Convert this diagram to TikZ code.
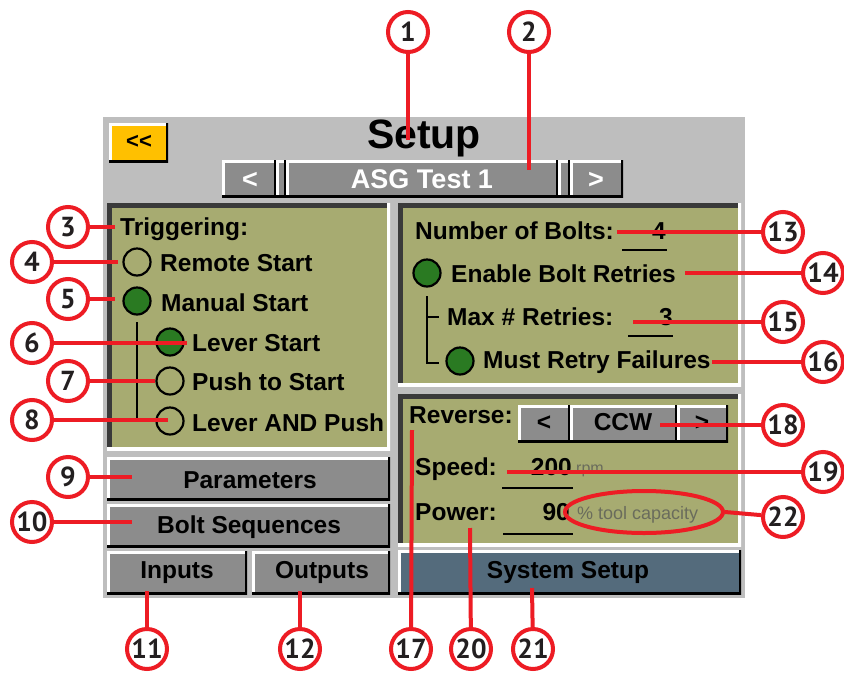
\documentclass[tikz,border=0pt]{standalone}
\usepackage{fontspec}
\setmainfont{Liberation Sans}
\newfontfamily\numfont{PT Sans}
\usetikzlibrary{shapes.geometric,fit}
\definecolor{scrgray}{HTML}{BEBEBE}
\definecolor{btngray}{HTML}{8C8C8C}
\definecolor{olive}{HTML}{A7AB71}
\definecolor{callred}{HTML}{ED1C24}
\definecolor{numdark}{HTML}{231F20}
\definecolor{slate}{HTML}{546B7C}
\definecolor{btnyellow}{HTML}{FFC000}
\definecolor{radiogreen}{HTML}{2A7A22}
\definecolor{hintgray}{HTML}{6A6C5C}
\definecolor{paneldark}{HTML}{3A3A3A}
\begin{document}
\begin{tikzpicture}[x=1pt,y=-1pt,
  box/.style={rectangle, inner sep=0pt, fit={#1}},
  raised/.style={path picture={
     \draw[white,line width=5pt] (path picture bounding box.south west) -- (path picture bounding box.north west) -- (path picture bounding box.north east);
     \draw[black,line width=5pt] (path picture bounding box.south west) -- (path picture bounding box.south east) -- (path picture bounding box.north east);}},
  sunken/.style={path picture={
     \draw[paneldark,line width=10pt] (path picture bounding box.south west) -- (path picture bounding box.north west) -- (path picture bounding box.north east);
     \draw[white,line width=6pt] (path picture bounding box.south west) -- (path picture bounding box.south east) -- (path picture bounding box.north east);}},
  scr/.style={inner sep=0pt, font=\bfseries\fontsize{24.5}{28}\selectfont, text=black},
  hint/.style={inner sep=0pt, text=hintgray},
  radio/.style={circle, draw=black, line width=2.2pt, minimum size=27pt, inner sep=0pt},
  radioon/.style={radio, fill=radiogreen},
  tree/.style={draw=black, line width=2.5pt},
  uline/.style={draw=black, line width=2pt},
  call/.style={circle, draw=callred, line width=4pt, fill=white, minimum size=40pt, inner sep=0pt,
     font=\numfont\bfseries\fontsize{27.5}{27.5}\selectfont, text=numdark},
  callline/.style={draw=callred, line width=4pt},
  ring/.style={ellipse, draw=callred, line width=4pt, inner sep=0pt}
]
\useasboundingbox (0,0) rectangle (844,673);
\fill[white] (0,0) rectangle (844,673);

% screen
\node[box={(103,117) (745,598)}, fill=scrgray] (screen) {};
\node[box={(109,123) (168,162)}, fill=btnyellow, raised] (back) {};
\node[scr, anchor=base, font=\bfseries\fontsize{22}{24}\selectfont] (backtxt) at (139,148) {{<}{<}};
\node[inner sep=0pt, anchor=base, font=\bfseries\fontsize{41}{44}\selectfont] (title) at (424,148) {Setup};

% profile selector
\node[box={(222,160) (276,197)}, fill=btngray, raised] (selL) {};
\node[box={(276,160) (286,197)}, fill=btngray, raised] (selLb) {};
\node[box={(286,160) (558,197)}, fill=btngray, raised] (selM) {};
\node[box={(558,160) (570,197)}, fill=btngray, raised] (selRb) {};
\node[box={(570,160) (623,197)}, fill=btngray, raised] (selR) {};
\node[scr, anchor=base, text=white, font=\bfseries\fontsize{27}{30}\selectfont] (selLt) at (250,188) {<};
\node[scr, anchor=base, text=white, font=\bfseries\fontsize{27}{30}\selectfont] (selMt) at (422,188) {ASG Test 1};
\node[scr, anchor=base, text=white, font=\bfseries\fontsize{27}{30}\selectfont] (selRt) at (596,188) {>};

% panels
\node[box={(107,203) (390,450)}, fill=olive, sunken] (pleft) {};
\node[box={(398,203) (741,386)}, fill=olive, sunken] (pright) {};
\node[box={(398,394) (741,546)}, fill=olive, sunken] (pbot) {};

% left panel contents
\node[scr, anchor=base west] (trig) at (120,235) {Triggering:};
\node[radio] (r4) at (137,262) {};
\node[scr, anchor=base west] (remote) at (160,271) {Remote Start};
\node[radioon] (r5) at (137,301) {};
\node[scr, anchor=base west] (manual) at (161,311) {Manual Start};
\draw[tree] (137,322) -- (137,422);
\node[radioon] (r6) at (170,342) {};
\node[scr, anchor=base west] (lever) at (192,351) {Lever Start};
\node[radio] (r7) at (170,381) {};
\node[scr, anchor=base west] (push) at (192,390) {Push to Start};
\node[radio] (r8) at (170,421) {};
\node[scr, anchor=base west] (leverpush) at (192,431) {Lever AND Push};

% right top panel
\node[scr, anchor=base west] (nbolts) at (415,239) {Number of Bolts:};
\node[scr, anchor=base east] (nboltsv) at (666,239) {4};
\draw[uline] (622,250) -- (667,250);
\node[radioon] (r14) at (427,273) {};
\node[scr, anchor=base west] (enable) at (451,282) {Enable Bolt Retries};
\draw[tree] (427,296) -- (427,363) -- (439,363);
\draw[tree] (427,317) -- (439,317);
\node[scr, anchor=base west] (maxr) at (447,325) {Max \# Retries:};
\node[scr, anchor=base east] (maxrv) at (673,325) {3};
\draw[uline] (628,336) -- (673,336);
\node[radioon] (r16) at (460,361) {};
\node[scr, anchor=base west] (must) at (483,368) {Must Retry Failures};

% right bottom panel
\node[scr, anchor=base west] (rev) at (409,423) {Reverse:};
\node[box={(518,405) (570,442)}, fill=btngray, raised] (dirL) {};
\node[box={(570,405) (677,442)}, fill=btngray, raised] (dirM) {};
\node[box={(677,405) (728,442)}, fill=btngray, raised] (dirR) {};
\node[scr, anchor=base] (dirLt) at (544,430) {<};
\node[scr, anchor=base] (dirMt) at (623,430) {CCW};
\node[scr, anchor=base] (dirRt) at (702,430) {>};
\node[scr, anchor=base west] (speed) at (415,475) {Speed:};
\node[scr, anchor=base east] (speedv) at (572,475) {200};
\node[hint, anchor=base west, font=\fontsize{16}{18}\selectfont] (rpm) at (576,473) {rpm};
\draw[uline] (502,488) -- (573,488);
\node[scr, anchor=base west] (power) at (415,520) {Power:};
\node[scr, anchor=base east] (powerv) at (570,520) {90};
\node[hint, anchor=base west, font=\fontsize{18}{20}\selectfont] (cap) at (577,519) {\% tool capacity};
\draw[uline] (503,534) -- (573,534);

% buttons
\node[box={(107,457) (390,500)}, fill=btngray, raised] (bparam) {};
\node[scr, anchor=base] (tparam) at (250,488) {Parameters};
\node[box={(107,504) (390,547)}, fill=btngray, raised] (bseq) {};
\node[scr, anchor=base] (tseq) at (249,533) {Bolt Sequences};
\node[box={(107,551) (247,594)}, fill=btngray, raised] (binp) {};
\node[scr, anchor=base] (tinp) at (177,578) {Inputs};
\node[box={(252,551) (390,594)}, fill=btngray, raised] (bout) {};
\node[scr, anchor=base] (tout) at (322,578) {Outputs};
\node[box={(398,550) (741,594)}, fill=slate, raised] (bsys) {};
\node[scr, anchor=base] (tsys) at (568,578) {System Setup};

% callout targets
\coordinate (t1) at (408,140);
\coordinate (t2) at (529,170);
\coordinate (t3) at (115,227);
\coordinate (t4) at (118,262);
\coordinate (t5) at (115,299);
\coordinate (t6) at (187,343);
\coordinate (t7) at (155,381);
\coordinate (t8) at (168,420);
\coordinate (t9) at (132,477);
\coordinate (t10) at (132,522);
\coordinate (t11) at (147,591);
\coordinate (t12) at (300,591);
\coordinate (t13) at (617,232);
\coordinate (t14) at (685,273);
\coordinate (t15) at (633,322);
\coordinate (t16) at (712,362);
\coordinate (t17) at (412,430);
\coordinate (t18) at (660,425);
\coordinate (t19) at (507,472);
\coordinate (t20) at (470,528);
\coordinate (t21) at (532,588);

% callouts
\node[call] (c1) at (408,32) {1};
\node[call] (c2) at (529,32) {2};
\node[call] (c3) at (68,227) {3};
\node[call] (c4) at (32,262) {4};
\node[call] (c5) at (68,299) {5};
\node[call] (c6) at (32,343) {6};
\node[call] (c7) at (68,381) {7};
\node[call] (c8) at (32,420) {8};
\node[call] (c9) at (68,477) {9};
\node[call] (c10) at (32,522) {10};
\node[call] (c11) at (147,649) {11};
\node[call] (c12) at (300,649) {12};
\node[call] (c13) at (783,232) {13};
\node[call] (c14) at (823,273) {14};
\node[call] (c15) at (783,322) {15};
\node[call] (c16) at (823,362) {16};
\node[call] (c17) at (411,649) {17};
\node[call] (c18) at (783,425) {18};
\node[call] (c19) at (823,472) {19};
\node[call] (c20) at (471,649) {20};
\node[call] (c21) at (533,649) {21};
\node[call] (c22) at (783,517) {22};
\node[ring, minimum width=158pt, minimum height=42pt] (e22) at (644,512) {};

\foreach \i in {1,...,21} {\draw[callline] (c\i) -- (t\i);}
\draw[callline] (c22) -- (e22.east);
\end{tikzpicture}
\end{document}
